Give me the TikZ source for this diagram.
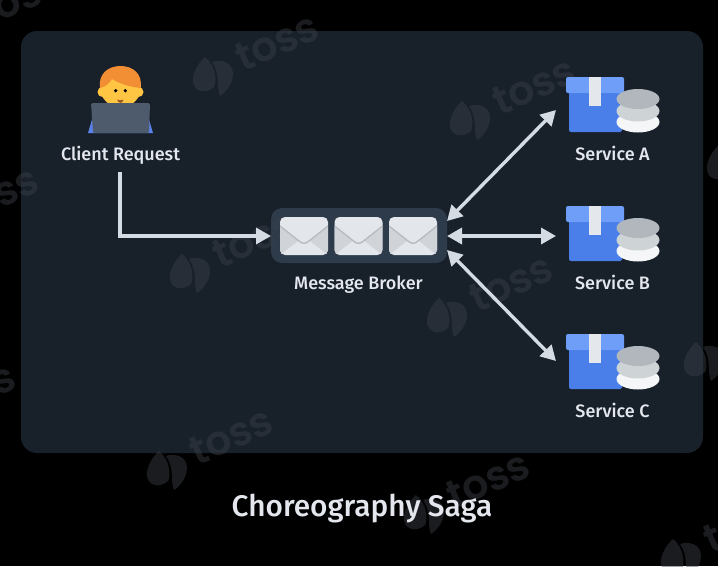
\documentclass[tikz,border=0pt]{standalone}
\usepackage{fontspec}
\setmainfont{Fira Sans}[UprightFont=* Medium]
\newfontfamily\wmfont{Poppins}[UprightFont=* SemiBold]
\usetikzlibrary{arrows.meta}
\definecolor{pagebg}{HTML}{000000}
\definecolor{panelbg}{HTML}{18202A}
\definecolor{brokerbg}{HTML}{2E3B4B}
\definecolor{linecol}{HTML}{D5DBE3}
\definecolor{textcol}{HTML}{E4E8EE}
\definecolor{boxblue}{HTML}{4A7FEA}
\definecolor{lidblue}{HTML}{6E9EF7}
\definecolor{ribbon}{HTML}{E4E7EB}
\definecolor{diskA}{HTML}{B1B7BC}
\definecolor{diskB}{HTML}{CED3D6}
\definecolor{diskC}{HTML}{F5F6F7}
\definecolor{envbody}{HTML}{E3E6EA}
\definecolor{envside}{HTML}{D0D3D7}
\definecolor{envflap}{HTML}{B4BAC2}
\definecolor{hair}{HTML}{F28F34}
\definecolor{skin}{HTML}{FFC543}
\definecolor{laptop}{HTML}{4E5B6C}
\definecolor{shirt}{HTML}{5A82E8}
\definecolor{wm}{HTML}{3A4048}
\tikzset{
  x=1pt,y=-1pt,
  lbl/.style={text=textcol,font=\fontsize{18}{20}\selectfont,inner sep=0pt,anchor=base},
  conn/.style={draw=linecol,line width=3.4pt},
  onehead/.style={conn,-{Triangle[length=15pt,width=16pt]}},
  twohead/.style={conn,{Triangle[length=15pt,width=16pt]}-{Triangle[length=15pt,width=16pt]}},
  wmtext/.style={text=wm,font=\fontsize{41}{41}\selectfont\wmfont,inner sep=0pt,rotate=24,text opacity=.45},
}
\newcommand{\wmark}[2]{%
  \begin{scope}[shift={(#1,#2)}]
    \fill[wm,opacity=.45] (-8,-21) .. controls (-14,-16) and (-21,-5) .. (-20,4) .. controls (-19,13) and (-8,17) .. (1,9) .. controls (4,3) and (3,-12) .. (-8,-21) -- cycle;
    \fill[wm,opacity=.45] (-1,-16) .. controls (8,-19) and (20,-16) .. (20,-4) .. controls (20,6) and (12,15) .. (7,18) .. controls (3,10) and (8,-4) .. (-1,-16) -- cycle;
    \node[wmtext] at (64,-36) {toss};
  \end{scope}}
\newcommand{\svcicon}[1]{%
  \begin{scope}[yshift=-#1pt]
    \fill[boxblue,rounded corners=2pt] (569,90) rectangle (622,132);
    \fill[lidblue,rounded corners=2pt] (566,77) rectangle (624,93);
    \fill[ribbon] (589,77) rectangle (601,106);
    \fill[diskC] (638,122) ellipse [x radius=21.5pt,y radius=10.5pt];
    \fill[diskB] (638,111) ellipse [x radius=21.5pt,y radius=10.5pt];
    \fill[diskA] (638,99) ellipse [x radius=21.5pt,y radius=10pt];
  \end{scope}}
\newcommand{\envelope}[1]{%
  \begin{scope}[xshift=#1pt]
    \fill[envbody,rounded corners=5pt] (280,217) rectangle (328,255);
    \begin{scope}
      \clip[rounded corners=5pt] (280,217) rectangle (328,255);
      \fill[envside] (280,227) -- (298,241) -- (280,255) -- cycle;
      \fill[envside] (328,227) -- (310,241) -- (328,255) -- cycle;
      \draw[envflap,line width=1.3pt,line join=round] (280,226) -- (299,241) .. controls (302,244) and (306,244) .. (309,241) -- (328,226);
    \end{scope}
  \end{scope}}
\begin{document}
\begin{tikzpicture}
\useasboundingbox (0,0) rectangle (718,566);
\clip (0,0) rectangle (718,566);
\fill[pagebg] (0,0) rectangle (718,566);
\fill[panelbg,rounded corners=16pt] (21,31) rectangle (703,453);
% broker plate
\node[fill=brokerbg,rounded corners=11pt,minimum width=176pt,minimum height=55pt,inner sep=0pt] (broker) at (359,235.5) {};
% watermarks
\wmark{-44}{34}\wmark{213}{78}\wmark{470}{122}\wmark{727}{166}
\wmark{-67}{231}\wmark{190}{275}\wmark{447}{319}\wmark{704}{363}
\wmark{-90}{428}\wmark{167}{472}\wmark{424}{516}\wmark{681}{560}
% client
\fill[shirt] (88,133) -- (93,116) -- (148,116) -- (153,133) -- cycle;
\fill[skin] (102.5,92) circle (5pt);
\fill[skin] (138.5,92) circle (5pt);
\fill[skin] (120.5,87) circle (20.5pt);
\fill[hair] (100,88) .. controls (98,74) and (108,66) .. (120.5,66) .. controls (133,66) and (143,74) .. (140.5,88)
  .. controls (131,87) and (120,84) .. (112,79) .. controls (109,84) and (105,87) .. (100,88) -- cycle;
\fill[black] (115.7,90.7) circle (1.8pt);
\fill[black] (125.3,90.7) circle (1.8pt);
\fill[hair!65!black] (117,99.5) .. controls (119,100.5) and (122,100.5) .. (123.5,99.5) .. controls (123,104) and (118,104) .. (117,99.5) -- cycle;
\fill[laptop,rounded corners=1.5pt] (91,103) -- (150,103) -- (149,133) -- (93,133) -- cycle;
% services
\svcicon{0}\svcicon{129}\svcicon{257}
% envelopes
\envelope{0}\envelope{54.5}\envelope{109}
% labels
\node[lbl] (client) at (120.5,160) {Client Request};
\node[lbl] (brokerlabel) at (358.5,289) {Message Broker};
\node[lbl] (svca) at (612.5,160) {Service A};
\node[lbl] (svcb) at (612.5,289) {Service B};
\node[lbl] (svcc) at (612.5,417) {Service C};
\node[text=textcol,font=\fontsize{29.8}{32}\selectfont,inner sep=0pt,anchor=base] (title) at (362,516) {Choreography Saga};
% connectors
\coordinate (clientout) at (120,172);
\coordinate (brokerin) at (271,236);
\coordinate (brokerA) at (447,221);
\coordinate (brokerB) at (447,236);
\coordinate (brokerC) at (447,250);
\coordinate (enda) at (556,110);
\coordinate (endb) at (556,236);
\coordinate (endc) at (556,361);
\draw[onehead] (clientout) |- (brokerin);
\draw[twohead] (brokerA) -- (enda);
\draw[twohead] (brokerB) -- (endb);
\draw[twohead] (brokerC) -- (endc);
\end{tikzpicture}
\end{document}
